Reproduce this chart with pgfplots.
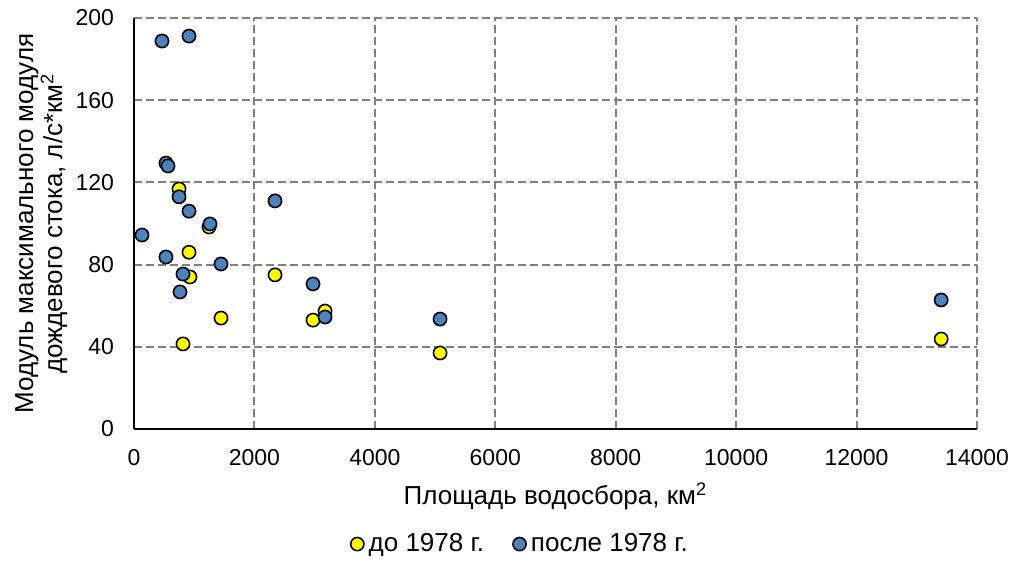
\documentclass[border=0pt]{standalone}
\usepackage{pgfplots}
\pgfplotsset{compat=1.18}
\usepackage{fontspec}
\setmainfont{Liberation Sans}
\definecolor{blu}{HTML}{4F81BD}
\definecolor{yel}{HTML}{FFFF00}
\definecolor{grd}{HTML}{808080}
\begin{document}
\begin{tikzpicture}
\begin{axis}[
  name=ax,
  scale only axis,
  width=421.5pt, height=205.5pt,
  xmin=0, xmax=14000, ymin=0, ymax=200,
  xtick={0,2000,...,14000}, ytick={0,40,...,200},
  axis x line=bottom, axis y line=left,
  axis line style={-, black, line width=1.1pt},
  major tick length=0pt,
  grid=major,
  major grid style={grd, line width=1pt, dash pattern=on 4pt off 2pt},
  /pgf/number format/assume math mode=true,
  scaled x ticks=false,
  xticklabel style={/pgf/number format/set thousands separator={}, yshift=-6.5pt},
  yticklabel style={xshift=-6.5pt},
  tick label style={font=\fontsize{11.5}{13}\selectfont},
  xlabel={Площадь водосбора, км\textsuperscript{2}},
  ylabel={Модуль максимального модуля\\дождевого стока, л/с*км\textsuperscript{2}},
  xlabel style={font=\fontsize{13}{12.5}\selectfont, at={(axis description cs:0.5,-0.1825)}, anchor=base},
  ylabel style={font=\fontsize{13}{12.5}\selectfont, align=center, at={(axis description cs:-0.0854,0.5)}, anchor=base},
  legend style={at={(0.459,-0.28)}, anchor=center, draw=none, legend columns=2,
    font=\fontsize{13}{14}\selectfont, /tikz/every even column/.append style={column sep=12pt}},
  legend cell align=left,
  legend image code/.code={\draw[#1, line width=0.8pt] (0.15cm,0cm) circle (3.3pt);},
  clip=false,
]
\addplot[only marks, draw=black, fill=yel, mark=*, mark size=3.3pt, mark options={fill=yel, draw=black, line width=0.8pt}] coordinates {
(748,116.8) (1246,98.3) (914,86) (930,74) (814,41.4) (1445,54) (2342,75)
(2973,53) (3173,57.4) (5083,37) (13405,43.8)
};
\addlegendentry{до 1978 г.}
\addplot[only marks, draw=black, fill=blu, mark=*, mark size=3.3pt, mark options={fill=blu, draw=black, line width=0.8pt}] coordinates {
(465,188.8) (914,191.2) (531,129.4) (565,128) (748,113) (914,106) (1262,99.8)
(2342,111) (133,94.4) (531,83.7) (1445,80.3) (814,75.4) (764,66.7) (2973,70.6)
(3173,54.5) (5083,53.5) (13405,62.8)
};
\addlegendentry{после 1978 г.}
\end{axis}
\path ([xshift=-67pt,yshift=-64.5pt]ax.south west) rectangle ([xshift=21pt,yshift=9pt]ax.north east);
\end{tikzpicture}
\end{document}
